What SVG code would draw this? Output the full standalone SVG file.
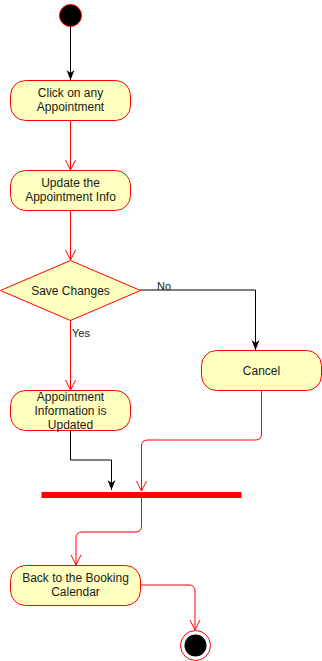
<svg xmlns="http://www.w3.org/2000/svg" width="322" height="661" viewBox="0 0 322 661">
  <style>
    .act { fill: #FFFFC0; stroke: #FF0000; stroke-width: 1; }
    .lbl { font-family: "Liberation Sans", Arial, sans-serif; font-size: 12px; fill: #1a1a1a; text-anchor: middle; }
    .elbl { font-family: "Liberation Sans", Arial, sans-serif; font-size: 11px; fill: #1a1a1a; }
    .red { fill: none; stroke: #FF0000; stroke-width: 1; }
    .blk { fill: none; stroke: #000000; stroke-width: 1; }
  </style>
  <defs>
    <!-- open V arrowhead for control flows -->
    <marker id="open" viewBox="0 0 12 12" refX="11" refY="6" markerWidth="12" markerHeight="12" markerUnits="userSpaceOnUse" orient="auto">
      <path d="M1,1 L11,6 L1,11" fill="none" stroke="#FF0000" stroke-width="1"/>
    </marker>
    <!-- filled classic arrowhead -->
    <marker id="solid" viewBox="0 0 10 10" refX="10" refY="5" markerWidth="10" markerHeight="10" markerUnits="userSpaceOnUse" orient="auto">
      <path d="M0,1 L10,5 L0,9 L3,5 Z" fill="#000000"/>
    </marker>
  </defs>

  <!-- connectors -->
  <g id="connectors">
    <path class="blk" d="M70.5,27 L70.5,80" marker-end="url(#solid)"/>
    <path class="red" d="M70.5,120 L70.5,170" marker-end="url(#open)"/>
    <path class="red" d="M70.5,210 L70.5,260" marker-end="url(#open)"/>
    <path class="red" d="M70.5,320 L70.5,390" marker-end="url(#open)"/>
    <path class="blk" d="M140,290 L255.5,290 L255.5,350" marker-end="url(#solid)"/>
    <path class="blk" d="M70.5,430 L70.5,460 L111.5,460 L111.5,490" marker-end="url(#solid)"/>
    <path class="red" d="M261.5,390 L261.5,434 Q261.5,440 255.5,440 L147.5,440 Q141.5,440 141.5,446 L141.5,491" marker-end="url(#open)"/>
    <path class="red" d="M141.5,498 L141.5,526 Q141.5,532 135.5,532 L82,532 Q76,532 76,538 L76,565" marker-end="url(#open)"/>
    <path class="red" d="M140,585 L189,585 Q195,585 195,591 L195,630" marker-end="url(#open)" stroke="#FF5050"/>
    <text class="elbl" x="157" y="290">No</text>
    <text class="elbl" x="72" y="337">Yes</text>
  </g>

  <!-- initial state -->
  <g id="start">
    <circle cx="70.5" cy="15.5" r="11" fill="#000000" stroke="#FF0000" stroke-width="1"/>
  </g>

  <g id="click-appointment">
    <rect class="act" x="10.5" y="80.5" width="120" height="40" rx="15" ry="15"/>
    <text class="lbl" x="70.5" y="97">Click on any</text>
    <text class="lbl" x="70.5" y="111">Appointment</text>
  </g>

  <g id="update-info">
    <rect class="act" x="10.5" y="170.5" width="120" height="40" rx="15" ry="15"/>
    <text class="lbl" x="70.5" y="187">Update the</text>
    <text class="lbl" x="70.5" y="201">Appointment Info</text>
  </g>

  <g id="save-changes">
    <path class="act" d="M70.5,260.5 L140.5,290.5 L70.5,320.5 L0.5,290.5 Z"/>
    <text class="lbl" x="70.5" y="295">Save Changes</text>
  </g>

  <g id="cancel">
    <rect class="act" x="201.5" y="350.5" width="120" height="40" rx="15" ry="15"/>
    <text class="lbl" x="261.5" y="375">Cancel</text>
  </g>

  <g id="info-updated">
    <rect class="act" x="10.5" y="390.5" width="120" height="40" rx="15" ry="15"/>
    <text class="lbl" x="70.5" y="401">Appointment</text>
    <text class="lbl" x="70.5" y="415">Information is</text>
    <text class="lbl" x="70.5" y="429">Updated</text>
  </g>

  <!-- join bar -->
  <g id="join">
    <rect x="41.5" y="492" width="200" height="6" fill="#FF0000"/>
  </g>

  <g id="back-to-calendar">
    <rect class="act" x="10.5" y="565.5" width="130" height="40" rx="15" ry="15" stroke="#FF5050"/>
    <text class="lbl" x="75.5" y="582">Back to the Booking</text>
    <text class="lbl" x="75.5" y="596">Calendar</text>
  </g>

  <!-- final state -->
  <g id="end">
    <circle cx="195.5" cy="645.5" r="15" fill="#FFFFFF" stroke="#FF0000" stroke-width="1"/>
    <circle cx="195.5" cy="645.5" r="11" fill="#000000"/>
  </g>
</svg>
